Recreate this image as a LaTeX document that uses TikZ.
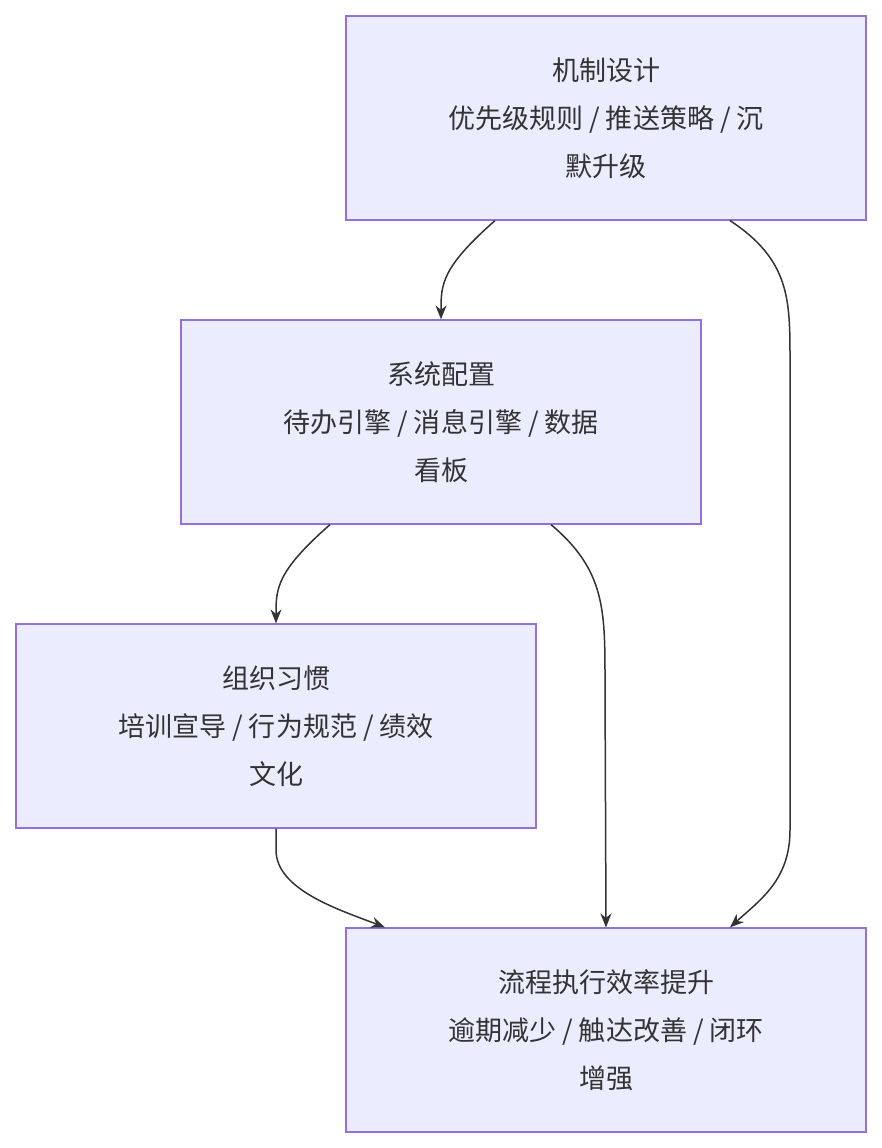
\documentclass[tikz,border=0pt]{standalone}
\usepackage{fontspec}
\setmainfont{Noto Sans CJK SC}
\usetikzlibrary{arrows.meta}
\definecolor{boxfill}{HTML}{ECECFF}
\definecolor{boxline}{HTML}{9370DB}
\definecolor{ink}{HTML}{333333}
\begin{document}
\begin{tikzpicture}[x=1pt,y=-1pt,
    box/.style={draw=boxline,fill=boxfill,line width=1.2pt,minimum width=520pt,minimum height=204pt,
      align=center,text=ink,font=\fontsize{27}{48}\selectfont,inner sep=0pt},
    link/.style={draw=ink,line width=1.5pt,-{Stealth[length=14pt,width=11pt]}}]
    \useasboundingbox (0,0) rectangle (882,1148);
    \node[box] at (606,118) (a) {机制设计\\优先级规则 / 推送策略 / 沉\\默升级};
    \node[box] at (441,422) (b) {系统配置\\待办引擎 / 消息引擎 / 数据\\看板};
    \node[box] at (276,726) (c) {组织习惯\\培训宣导 / 行为规范 / 绩效\\文化};
    \node[box] at (606,1030) (d) {流程执行效率提升\\逾期减少 / 触达改善 / 闭环\\增强};
    \draw[link] ([xshift=-111pt]a.south) .. controls (441,268) and (441,285) .. (b.north);
    \draw[link] ([xshift=124pt]a.south) .. controls (790,260) and (790,300) .. (790,360)
        -- (790,830) .. controls (790,880) and (760,900) .. ([xshift=124pt]d.north);
    \draw[link] ([xshift=-111pt]b.south) .. controls (276,572) and (276,589) .. (c.north);
    \draw[link] ([xshift=110pt]b.south) .. controls (605,570) and (605,610) .. (605,680)
        -- (d.north);
    \draw[link] (c.south) -- (276,850) .. controls (276,890) and (340,910) .. ([xshift=-221pt]d.north);
\end{tikzpicture}
\end{document}
